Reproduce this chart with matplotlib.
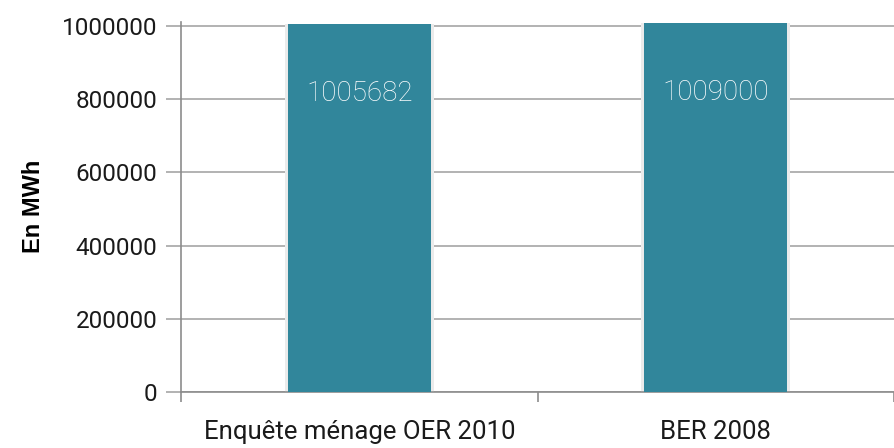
import matplotlib.pyplot as plt
import numpy as np

categories = ["Enquête ménage OER 2010", "BER 2008"]
values = [1005682, 1009000]
yticks = [0, 200000, 400000, 600000, 800000, 1000000]

plt.rcParams['font.family'] = ['Roboto', 'DejaVu Sans']

fig = plt.figure(figsize=(8.94, 4.48), dpi=100)
ax = fig.add_axes([0.2025, 0.125, 0.7975, 0.827])

xpos = np.arange(len(categories))
# soft shadow behind each bar, then the bar itself
ax.bar(xpos, values, width=0.418, color="#ebebeb", zorder=2)
ax.bar(xpos, values, width=0.40, color="#31869b", zorder=3)
for x, v in zip(xpos, values):
    ax.text(x, v - 190000, str(v), ha="center", va="center", color="#ffffff",
            fontsize=20, fontweight="light", zorder=4)

ax.set_xlim(-0.5, 1.475)
ax.set_ylim(0, 1012000)
ax.set_yticks(yticks)
ax.set_yticklabels([str(t) for t in yticks], fontsize=17.5, color="#1a1a1a")
ax.yaxis.grid(True, color="#a6a6a6", linewidth=1.2, zorder=1)
ax.set_axisbelow(True)

ax.set_xticks([-0.5, 0.5, 1.5])
ax.set_xticklabels([])
ax.set_xticks(xpos, minor=True)
ax.set_xticklabels(categories, minor=True, fontsize=18.5, color="#1a1a1a")
ax.tick_params(axis="x", which="minor", length=0, pad=20)
ax.tick_params(axis="x", which="major", length=7, color="#8c8c8c", width=1.2)
ax.tick_params(axis="y", length=11, color="#a6a6a6", width=1.2, pad=6)

for s in ["top", "right"]:
    ax.spines[s].set_visible(False)
ax.spines["left"].set_color("#8c8c8c")
ax.spines["bottom"].set_color("#8c8c8c")
ax.spines["left"].set_linewidth(1.2)
ax.spines["bottom"].set_linewidth(1.2)

ax.set_ylabel("En MWh", fontsize=17, fontweight="bold", family="Liberation Sans", labelpad=12)

fig.savefig("out.png", dpi=100)
